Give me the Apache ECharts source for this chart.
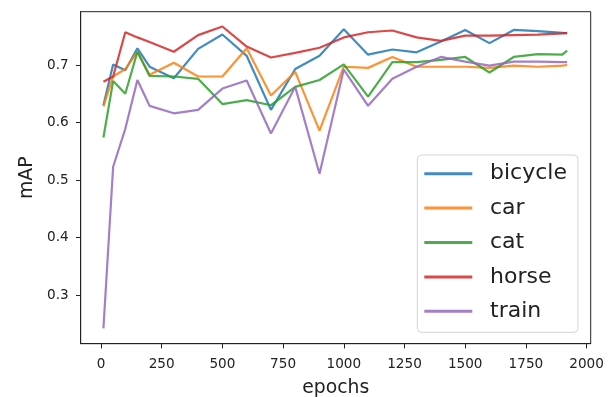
<!DOCTYPE html>
<html>
<head>
<meta charset="utf-8">
<script src="https://cdn.jsdelivr.net/npm/echarts@6/dist/echarts.min.js"></script>
<style>html,body{margin:0;padding:0;background:#fff;}#c{width:608px;height:397px;}</style>
</head>
<body>
<div id="c"></div>
<script>
const epochs = [10,50,100,150,200,300,400,500,600,700,800,900,1000,1100,1200,1300,1400,1500,1600,1700,1800,1900,1920];
const bicycle = [0.630,0.701,0.691,0.729,0.697,0.677,0.728,0.753,0.716,0.622,0.693,0.716,0.762,0.718,0.727,0.722,0.741,0.761,0.738,0.761,0.759,0.756,0.755];
const car = [0.628,0.680,0.693,0.723,0.683,0.704,0.680,0.680,0.729,0.647,0.688,0.586,0.697,0.695,0.714,0.697,0.697,0.697,0.695,0.699,0.697,0.699,0.700];
const cat = [0.574,0.672,0.650,0.723,0.681,0.680,0.676,0.632,0.639,0.630,0.662,0.674,0.701,0.645,0.705,0.705,0.709,0.714,0.687,0.714,0.719,0.718,0.725];
const horse = [0.671,0.680,0.757,0.748,0.740,0.723,0.752,0.767,0.732,0.713,0.721,0.730,0.748,0.757,0.760,0.748,0.742,0.751,0.751,0.752,0.753,0.755,0.756];
const train = [0.242,0.523,0.589,0.674,0.629,0.616,0.622,0.659,0.673,0.581,0.662,0.511,0.692,0.629,0.676,0.697,0.714,0.706,0.699,0.706,0.706,0.705,0.705];
const seriesNames = ['bicycle','car','cat','horse','train'];
const seriesValues = [bicycle, car, cat, horse, train];
const colors = ['#1f77b4','#ff7f0e','#2ca02c','#d62728','#9467bd'];
const xTicks = [0,250,500,750,1000,1250,1500,1750,2000];
const yTicks = [0.3,0.4,0.5,0.6,0.7];

const FONT = 'DejaVu Sans';
const chart = echarts.init(document.getElementById('c'), null, {renderer:'canvas'});
chart.setOption({
  animation: false,
  backgroundColor: '#fff',
  color: colors,
  textStyle: {fontFamily: FONT},
  grid: {left: 80.7, right: 17.3, top: 11.7, bottom: 53.3, containLabel: false, outerBoundsMode: 'none',
         show: true, borderColor: '#222', borderWidth: 1, backgroundColor: 'transparent'},
  xAxis: {
    type: 'value', min: -83.6, max: 2017,
    name: 'epochs', nameLocation: 'middle', nameGap: 35,
    nameTextStyle: {fontFamily: FONT, fontSize: 18.8, color: '#222'},
    axisLine: {show: true, onZero: false, lineStyle: {color: '#222', width: 1}},
    axisTick: {show: true, length: 4.7, inside: false, customValues: xTicks, lineStyle: {color: '#222', width: 1}},
    axisLabel: {customValues: xTicks, margin: 14, fontFamily: FONT, fontSize: 13.6, color: '#222', formatter: v => String(v)},
    splitLine: {show: false}
  },
  yAxis: {
    type: 'value', min: 0.2153, max: 0.7927,
    name: 'mAP', nameLocation: 'middle', nameGap: 36, nameRotate: 90,
    nameTextStyle: {fontFamily: FONT, fontSize: 18.8, color: '#222'},
    axisLine: {show: true, onZero: false, lineStyle: {color: '#222', width: 1}},
    axisTick: {show: true, length: 4.7, inside: false, customValues: yTicks, lineStyle: {color: '#222', width: 1}},
    axisLabel: {customValues: yTicks, margin: 12, fontFamily: FONT, fontSize: 13.6, color: '#222', formatter: v => v.toFixed(1)},
    splitLine: {show: false}
  },
  legend: {
    orient: 'vertical', left: 417.3, top: 155,
    padding: [7.7, 11, 10, 7],
    icon: 'rect',
    itemWidth: 48, itemHeight: 3, itemGap: 12.4, itemTextGap: 5,
    borderColor: '#d5d5d5', borderWidth: 1, borderRadius: 4,
    backgroundColor: 'rgba(255,255,255,0.8)',
    textStyle: {fontFamily: FONT, fontSize: 22, lineHeight: 22, color: '#222', padding: [0, 0, 0, 12.7]},
    data: seriesNames.map((n, i) => ({name: n, itemStyle: {color: colors[i], opacity: 0.85}}))
  },
  series: seriesNames.map((n, i) => ({
    name: n, type: 'line', symbol: 'none', showSymbol: false,
    data: epochs.map((e, j) => [e, seriesValues[i][j]]),
    lineStyle: {width: 2.2, opacity: 0.85, color: colors[i]},
    itemStyle: {color: colors[i]},
    emphasis: {disabled: true}
  }))
});
</script>
</body>
</html>
